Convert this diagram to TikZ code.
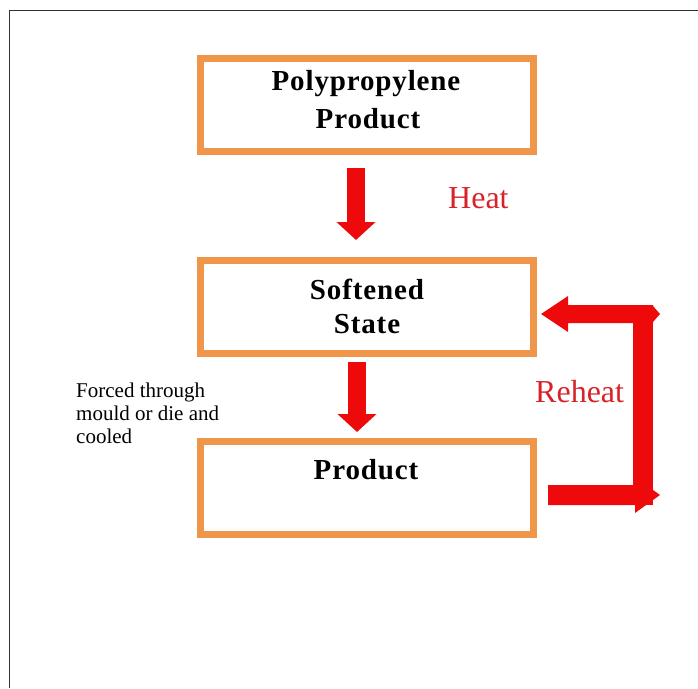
\documentclass[tikz,border=0pt]{standalone}
\usepackage{fontspec}
\setmainfont{Liberation Serif}
\usetikzlibrary{arrows.meta}
\definecolor{boxorange}{RGB}{240,150,75}
\definecolor{arrred}{RGB}{238,10,10}
\definecolor{txtred}{RGB}{215,35,40}
\definecolor{framegray}{RGB}{50,50,50}
\tikzset{
  procbox/.style={draw=boxorange, line width=7pt, minimum width=333pt, minimum height=93pt, inner sep=0pt},
  boxtext/.style={anchor=base, font=\fontsize{29}{32}\selectfont\bfseries\addfontfeatures{LetterSpace=3}},
  redlabel/.style={anchor=base west, text=txtred, font=\fontsize{32}{36}\selectfont, inner sep=0pt},
  note/.style={anchor=base west, font=\fontsize{21}{24}\selectfont, inner sep=0pt},
  downarrow/.style={draw=arrred, line width=18pt, -{Triangle[width=38pt,length=18pt]}},
  redfill/.style={fill=arrred, draw=none}
}
\begin{document}
\begin{tikzpicture}[x=1pt,y=-1pt]
\useasboundingbox (0,0) rectangle (698,688);
% frame
\draw[framegray, line width=1.8pt] (9.5,688) -- (9.5,10.5) -- (698,10.5);
% boxes
\node[procbox] (b1) at (367,105) {};
\node[procbox] (b2) at (367,307) {};
\node[procbox] (b3) at (367,488) {};
% box texts
\node[boxtext] (t1a) at (366,90) {Polypropylene};
\node[boxtext] (t1b) at (368,128) {Product};
\node[boxtext] (t2a) at (367,299) {Softened};
\node[boxtext] (t2b) at (367,333) {State};
\node[boxtext] (t3) at (366,479) {Product};
% down arrows
\draw[downarrow] ([xshift=-11pt,yshift=-13pt]b1.south) -- ([xshift=-11pt,yshift=17pt]b2.north);
\draw[downarrow] ([xshift=-10pt,yshift=-5pt]b2.south) -- ([xshift=-10pt,yshift=6pt]b3.north);
% labels
\node[redlabel] (heat) at (448,208) {Heat};
\node[redlabel] (reheat) at (535,402) {Reheat};
\node[note] (n1) at (76,397) {Forced through};
\node[note] (n2) at (76,420) {mould or die and};
\node[note] (n3) at (76,443) {cooled};
% reheat bent arrow
\fill[redfill] (548,485) -- (635,485) -- (635,477) -- (660,495) -- (635,513) -- (635,505) -- (548,505) -- cycle;
\fill[redfill] (633,305) rectangle (653,505);
\fill[redfill] (653,305) -- (568,305) -- (568,296) -- (541,314) -- (568,332) -- (568,323) -- (653,323) -- cycle;
\fill[redfill] (653,306) -- (660,314) -- (653,322) -- cycle;
\end{tikzpicture}
\end{document}
